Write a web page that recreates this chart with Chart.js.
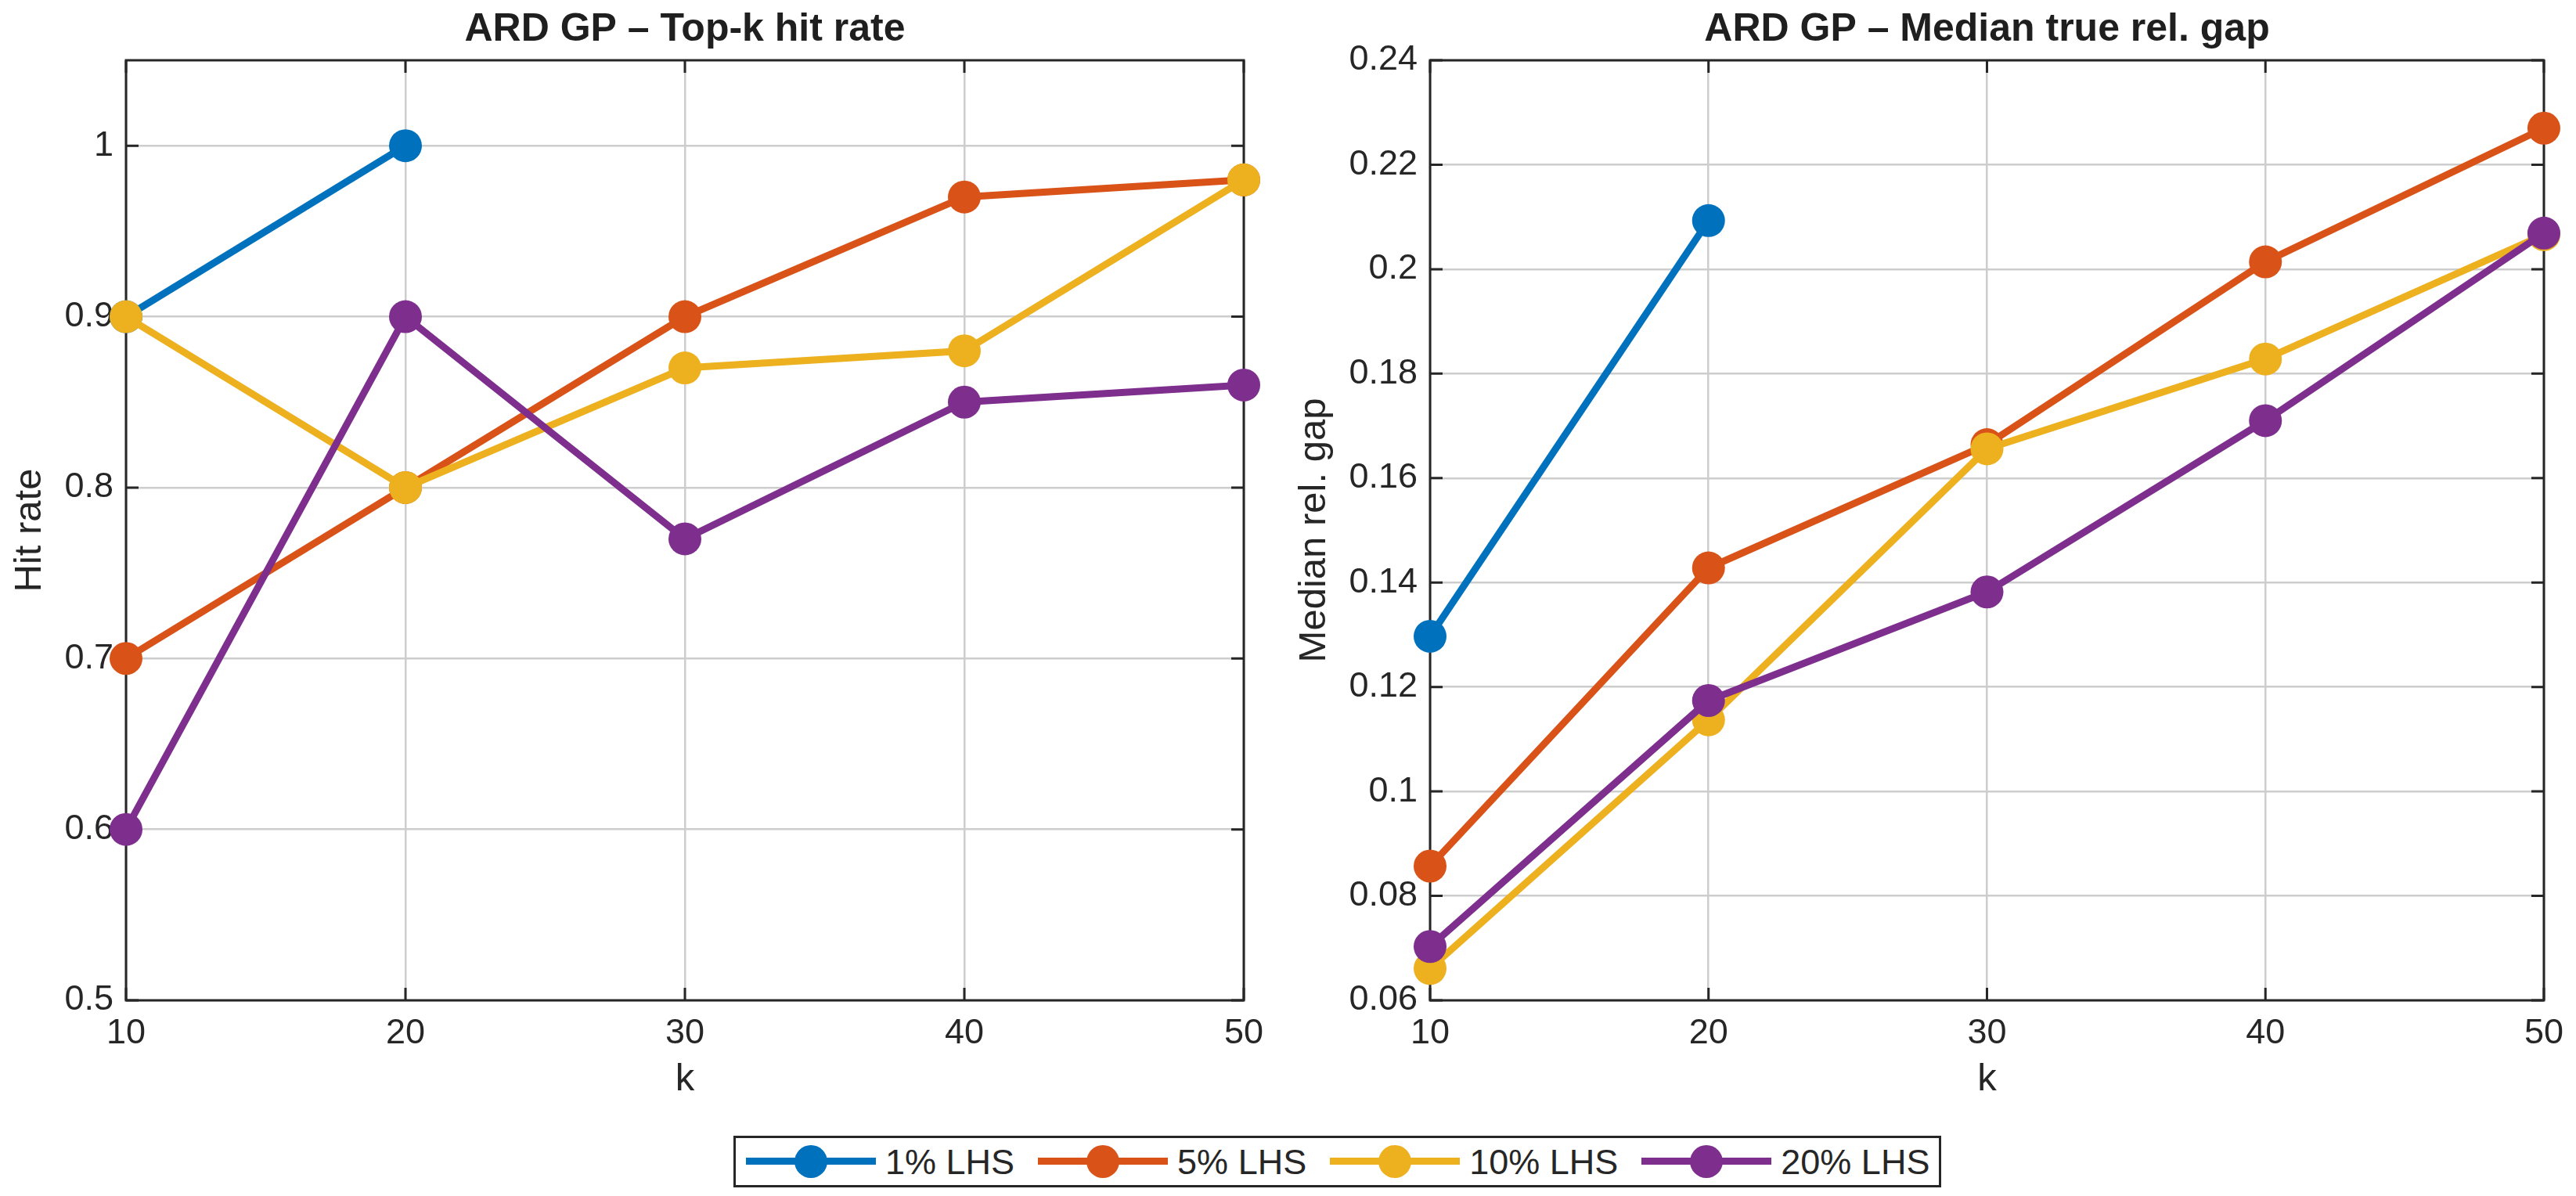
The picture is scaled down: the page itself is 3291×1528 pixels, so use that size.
<!DOCTYPE html>
<html>
<head>
<meta charset="utf-8">
<script src="https://cdn.jsdelivr.net/npm/chart.js@4.4.1/dist/chart.umd.min.js"></script>
<style>
  html, body { margin: 0; padding: 0; background: #fff; }
  #page { position: relative; width: 3291px; height: 1528px; overflow: hidden;
          font-family: "Liberation Sans", Arial, sans-serif; color: #262626; }
  .panel { position: absolute; top: 0; height: 1420px; }
  #panelHit { left: 0; width: 1645px; }
  #panelGap { left: 1645px; width: 1646px; }
  #legend { position: absolute; left: 937px; top: 1451px; width: 1543px; height: 66px;
            box-sizing: border-box; border: 3px solid #262626; background: #fff;
            display: flex; align-items: center; padding-left: 13px; white-space: nowrap; }
  .item { display: flex; align-items: center; flex-shrink: 0; margin-right: 30px; }
  .swatch { position: relative; width: 166px; height: 42px; flex-shrink: 0; }
  .swatch .ln { position: absolute; left: 0; right: 0; top: 16px; height: 9px; }
  .swatch .dot { position: absolute; left: 62px; top: 0; width: 42px; height: 42px; border-radius: 50%; }
  .item span { font-size: 45px; margin-left: 12px; line-height: 1; white-space: nowrap; }
</style>
</head>
<body>
<div id="page">
  <div class="panel" id="panelHit"><canvas id="hitChart"></canvas></div>
  <div class="panel" id="panelGap"><canvas id="gapChart"></canvas></div>
  <div id="legend"></div>
</div>
<script>
// Dados
const ks = [10, 20, 30, 40, 50];
const seriesLabels = ['1% LHS', '5% LHS', '10% LHS', '20% LHS'];
const seriesColors = ['#0072BD', '#D95319', '#EDB120', '#7E2F8E'];

const hit1  = [0.90, 1.00, null, null, null];
const hit5  = [0.70, 0.80, 0.90, 0.97, 0.98];
const hit10 = [0.90, 0.80, 0.87, 0.88, 0.98];
const hit20 = [0.60, 0.90, 0.77, 0.85, 0.86];

const gap1  = [0.1297, 0.2093, null, null, null];
const gap5  = [0.0857, 0.1428, 0.1664, 0.2014, 0.2270];
const gap10 = [0.0661, 0.1137, 0.1656, 0.1828, 0.2066];
const gap20 = [0.0703, 0.1174, 0.1382, 0.1710, 0.2069];

const textColor = '#262626';
const font = 'Liberation Sans, Arial, sans-serif';
Chart.defaults.font.family = font;
Chart.defaults.color = textColor;

// Caixa e marcas internas estilo MATLAB
const matlabBox = {
    id: 'matlabBox',
    beforeDatasetsDraw(chart) {
        const { ctx, chartArea: a, scales: { x, y } } = chart;
        const len = 16;
        ctx.save();
        ctx.strokeStyle = textColor;
        ctx.lineWidth = 3;
        ctx.beginPath();
        x.ticks.forEach(t => {
            const px = x.getPixelForValue(t.value);
            ctx.moveTo(px, a.bottom); ctx.lineTo(px, a.bottom - len);
            ctx.moveTo(px, a.top); ctx.lineTo(px, a.top + len);
        });
        y.ticks.forEach(t => {
            const py = y.getPixelForValue(t.value);
            ctx.moveTo(a.left, py); ctx.lineTo(a.left + len, py);
            ctx.moveTo(a.right, py); ctx.lineTo(a.right - len, py);
        });
        ctx.stroke();
        ctx.strokeRect(a.left, a.top, a.right - a.left, a.bottom - a.top);
        ctx.restore();
    }
};

function toPoints(vals) {
    return ks.map((k, i) => ({ x: k, y: vals[i] }));
}

function makeChart(id, allVals, opts) {
    const datasets = allVals.map((vals, i) => ({
        label: seriesLabels[i],
        data: toPoints(vals),
        borderColor: seriesColors[i],
        backgroundColor: seriesColors[i],
        borderWidth: 9,
        pointRadius: 21,
        pointBorderWidth: 0,
        pointBackgroundColor: seriesColors[i],
        tension: 0,
        clip: false,
        order: allVals.length - i
    }));
    return new Chart(document.getElementById(id), {
        type: 'line',
        data: { datasets },
        plugins: [matlabBox],
        options: {
            responsive: true,
            maintainAspectRatio: false,
            animation: false,
            layout: { padding: { left: 0, right: opts.padRight, top: 0, bottom: 0 } },
            plugins: {
                legend: { display: false },
                tooltip: { enabled: false },
                title: {
                    display: true,
                    fullSize: false,
                    text: opts.title,
                    color: '#1f1f1f',
                    font: { size: 50, weight: 'bold' },
                    padding: { top: 8, bottom: 9 }
                }
            },
            scales: {
                x: {
                    type: 'linear',
                    min: 10,
                    max: 50,
                    ticks: { stepSize: 10, padding: 16, maxRotation: 0, font: { size: 45 } },
                    grid: { color: '#cdcdcd', lineWidth: 2.5, drawTicks: false },
                    border: { display: false },
                    title: { display: true, text: 'k', font: { size: 49 }, padding: { top: 0, bottom: 11 } },
                    afterFit: s => { s.height = 142; }
                },
                y: {
                    min: opts.yMin,
                    max: opts.yMax,
                    ticks: {
                        stepSize: opts.yStep,
                        includeBounds: false,
                        padding: 16,
                        font: { size: 45 },
                        callback: v => String(+v.toFixed(3))
                    },
                    grid: { color: '#cdcdcd', lineWidth: 2.5, drawTicks: false },
                    border: { display: false },
                    title: { display: true, text: opts.yTitle, font: { size: 49 }, padding: { top: opts.yTitlePad, bottom: 0 } },
                    afterFit: s => { s.width = opts.yWidth; }
                }
            }
        }
    });
}

makeChart('hitChart', [hit1, hit5, hit10, hit20], {
    title: 'ARD GP – Top-k hit rate',
    yTitle: 'Hit rate',
    yMin: 0.5, yMax: 1.05, yStep: 0.1,
    yWidth: 161, padRight: 56, yTitlePad: 9
});

makeChart('gapChart', [gap1, gap5, gap10, gap20], {
    title: 'ARD GP – Median true rel. gap',
    yTitle: 'Median rel. gap',
    yMin: 0.06, yMax: 0.24, yStep: 0.02,
    yWidth: 182, padRight: 36, yTitlePad: 5
});

// Legenda comum
const legend = document.getElementById('legend');
seriesLabels.forEach((lab, i) => {
    const item = document.createElement('div');
    item.className = 'item';
    item.innerHTML = '<div class="swatch"><div class="ln" style="background:' + seriesColors[i] +
        '"></div><div class="dot" style="background:' + seriesColors[i] + '"></div></div><span>' + lab + '</span>';
    legend.appendChild(item);
});
</script>
</body>
</html>
